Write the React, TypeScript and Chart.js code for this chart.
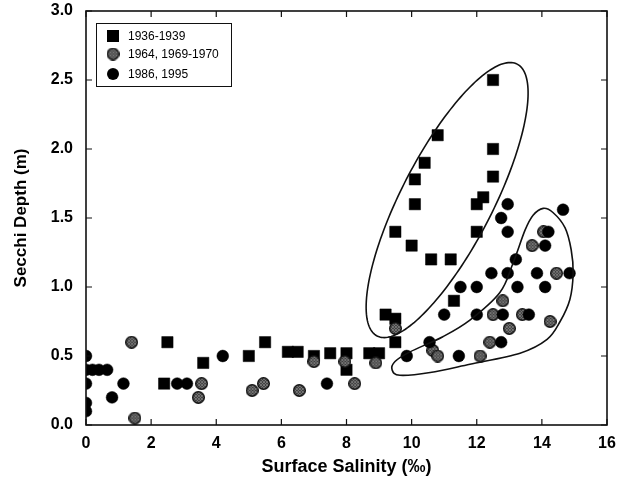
import React, { useEffect, useRef } from 'react';
import { Chart, registerables } from 'chart.js';

Chart.register(...registerables);

const FONT = '"Liberation Sans", Arial, Helvetica, sans-serif';

// Axis settings
const xMin = 0;
const xMax = 16;
const xStep = 2;
const yMin = 0;
const yMax = 3;
const yStep = 0.5;
const xTitle = 'Surface Salinity (‰)';
const yTitle = 'Secchi Depth (m)';

// Series 1: 1936-1939 (filled squares)
const s1Label = '1936-1939';
const s1X = [2.5, 2.4, 3.6, 5.0, 5.5, 6.2, 6.5, 7.0, 7.5, 8.0, 8.0, 8.7, 9.0, 9.5, 9.2, 9.5, 11.3, 9.5, 10.0, 10.6, 11.2, 10.1, 10.1, 10.4, 10.8, 12.0, 12.0, 12.2, 12.5, 12.5, 12.5];
const s1Y = [0.6, 0.3, 0.45, 0.5, 0.6, 0.53, 0.53, 0.5, 0.52, 0.52, 0.4, 0.52, 0.52, 0.6, 0.8, 0.77, 0.9, 1.4, 1.3, 1.2, 1.2, 1.6, 1.78, 1.9, 2.1, 1.4, 1.6, 1.65, 1.8, 2.0, 2.5];

// Series 2: 1964, 1969-1970 (hatched circles)
const s2Label = '1964, 1969-1970';
const s2X = [1.4, 1.5, 3.55, 3.45, 5.1, 5.45, 6.55, 7.0, 7.95, 8.25, 8.9, 9.5, 10.65, 10.8, 12.1, 12.4, 12.5, 12.8, 13.0, 13.4, 14.25, 14.45, 13.7, 14.05];
const s2Y = [0.6, 0.05, 0.3, 0.2, 0.25, 0.3, 0.25, 0.46, 0.46, 0.3, 0.45, 0.7, 0.54, 0.5, 0.5, 0.6, 0.8, 0.9, 0.7, 0.8, 0.75, 1.1, 1.3, 1.4];

// Series 3: 1986, 1995 (filled circles)
const s3Label = '1986, 1995';
const s3X = [0, 0, 0.2, 0.4, 0.65, 0, 0, 0, 1.15, 0.8, 2.8, 3.1, 4.2, 7.4, 9.85, 10.55, 11.0, 11.45, 11.5, 12.0, 12.0, 12.75, 12.95, 12.95, 14.65, 14.2, 14.1, 13.2, 12.45, 12.95, 13.85, 14.85, 13.25, 14.1, 12.8, 13.6, 12.75];
const s3Y = [0.5, 0.4, 0.4, 0.4, 0.4, 0.3, 0.16, 0.1, 0.3, 0.2, 0.3, 0.3, 0.5, 0.3, 0.5, 0.6, 0.8, 0.5, 1.0, 1.0, 0.8, 1.5, 1.6, 1.4, 1.56, 1.4, 1.3, 1.2, 1.1, 1.1, 1.1, 1.1, 1.0, 1.0, 0.8, 0.8, 0.6];

// Enclosing outlines (data units)
const bigLoopCenter = [11.09, 1.63];
const bigLoopMajor = [2.15, 0.985];
const bigLoopMinor = [1.25, -0.151];
const smallLoopX = [9.4, 9.64, 10.57, 11.79, 13.33, 14.16, 14.56, 14.86, 14.96, 14.9, 14.71, 14.34, 14.04, 13.73, 13.48, 13.11, 12.71, 11.79, 10.96, 9.95, 9.49];
const smallLoopY = [0.4, 0.36, 0.38, 0.44, 0.52, 0.62, 0.75, 0.91, 1.1, 1.27, 1.43, 1.54, 1.57, 1.52, 1.41, 1.17, 0.96, 0.76, 0.64, 0.53, 0.46];

function zip(xs: number[], ys: number[]) {
  return xs.map((x, i) => ({ x, y: ys[i] }));
}

function makeHatched(size: number): HTMLCanvasElement {
  const c = document.createElement('canvas');
  c.width = size;
  c.height = size;
  const g = c.getContext('2d')!;
  const cx = size / 2;
  const r = size / 2 - 0.7;
  g.save();
  g.beginPath();
  g.arc(cx, cx, r, 0, Math.PI * 2);
  g.closePath();
  g.fillStyle = '#3c3c3c';
  g.fill();
  g.clip();
  g.strokeStyle = '#8c8c8c';
  g.lineWidth = 0.7;
  for (let k = -size; k < size * 2; k += 3) {
    g.beginPath();
    g.moveTo(k, 0);
    g.lineTo(k + size, size);
    g.stroke();
    g.beginPath();
    g.moveTo(k, size);
    g.lineTo(k + size, 0);
    g.stroke();
  }
  g.restore();
  g.beginPath();
  g.arc(cx, cx, r, 0, Math.PI * 2);
  g.strokeStyle = '#101010';
  g.lineWidth = 1.4;
  g.stroke();
  return c;
}

export default function App() {
  const ref = useRef<HTMLCanvasElement>(null);

  useEffect(() => {
    const canvas = ref.current;
    if (!canvas) return;
    const hatched = makeHatched(13);

    const decor = {
      id: 'decor',
      afterDatasetsDraw(chart: any) {
        const { ctx, chartArea: a, scales } = chart;
        const xs = scales.x;
        const ys = scales.y;
        const px = (v: number) => xs.getPixelForValue(v);
        const py = (v: number) => ys.getPixelForValue(v);
        ctx.save();

        // big ellipse
        ctx.beginPath();
        for (let i = 0; i <= 200; i++) {
          const t = (i / 200) * Math.PI * 2;
          const dx = bigLoopCenter[0] + Math.cos(t) * bigLoopMajor[0] + Math.sin(t) * bigLoopMinor[0];
          const dy = bigLoopCenter[1] + Math.cos(t) * bigLoopMajor[1] + Math.sin(t) * bigLoopMinor[1];
          if (i === 0) ctx.moveTo(px(dx), py(dy));
          else ctx.lineTo(px(dx), py(dy));
        }
        ctx.closePath();
        ctx.strokeStyle = '#111';
        ctx.lineWidth = 1.6;
        ctx.stroke();

        // small loop: closed Catmull-Rom spline
        const pts = smallLoopX.map((x, i) => [px(x), py(smallLoopY[i])]);
        const n = pts.length;
        ctx.beginPath();
        ctx.moveTo(pts[0][0], pts[0][1]);
        for (let i = 0; i < n; i++) {
          const p0 = pts[(i - 1 + n) % n];
          const p1 = pts[i];
          const p2 = pts[(i + 1) % n];
          const p3 = pts[(i + 2) % n];
          const c1x = p1[0] + (p2[0] - p0[0]) / 6;
          const c1y = p1[1] + (p2[1] - p0[1]) / 6;
          const c2x = p2[0] - (p3[0] - p1[0]) / 6;
          const c2y = p2[1] - (p3[1] - p1[1]) / 6;
          ctx.bezierCurveTo(c1x, c1y, c2x, c2y, p2[0], p2[1]);
        }
        ctx.closePath();
        ctx.stroke();

        // frame
        ctx.strokeStyle = '#111';
        ctx.lineWidth = 1.6;
        ctx.strokeRect(a.left, a.top, a.right - a.left, a.bottom - a.top);

        // inward ticks
        ctx.lineWidth = 1.2;
        const tl = 6;
        xs.ticks.forEach((t: any) => {
          const x = px(t.value);
          ctx.beginPath();
          ctx.moveTo(x, a.bottom);
          ctx.lineTo(x, a.bottom - tl);
          ctx.moveTo(x, a.top);
          ctx.lineTo(x, a.top + tl);
          ctx.stroke();
        });
        ys.ticks.forEach((t: any) => {
          const y = py(t.value);
          ctx.beginPath();
          ctx.moveTo(a.left, y);
          ctx.lineTo(a.left + tl, y);
          ctx.moveTo(a.right, y);
          ctx.lineTo(a.right - tl, y);
          ctx.stroke();
        });

        // legend
        const lx = a.left + 10;
        const ly = a.top + 12;
        const lw = 135;
        const lh = 63;
        ctx.fillStyle = '#fff';
        ctx.fillRect(lx, ly, lw, lh);
        ctx.strokeStyle = '#111';
        ctx.lineWidth = 1;
        ctx.strokeRect(lx + 0.5, ly + 0.5, lw, lh);
        const rows = [13, 31, 51];
        const labels = chart.data.datasets.map((d: any) => d.label);
        ctx.font = '12px ' + FONT;
        ctx.textBaseline = 'middle';
        ctx.textAlign = 'left';
        labels.forEach((lab: string, i: number) => {
          const cy = ly + rows[i];
          const cx = lx + 17;
          ctx.fillStyle = '#000';
          if (i === 0) {
            ctx.fillRect(cx - 6, cy - 6, 12, 12);
          } else if (i === 1) {
            ctx.drawImage(hatched, cx - 6.5, cy - 6.5);
          } else {
            ctx.beginPath();
            ctx.arc(cx, cy, 6, 0, Math.PI * 2);
            ctx.fill();
          }
          ctx.fillStyle = '#000';
          ctx.fillText(lab, lx + 32, cy + 0.5);
        });
        ctx.restore();
      },
    };

    const chart = new Chart(canvas, {
      type: 'scatter',
      data: {
        datasets: [
          {
            label: s1Label,
            data: zip(s1X, s1Y),
            pointStyle: 'rect',
            pointRadius: 8,
            backgroundColor: '#000',
            borderColor: '#000',
            borderWidth: 0.5,
            order: 3,
          },
          {
            label: s2Label,
            data: zip(s2X, s2Y),
            pointStyle: hatched,
            pointRadius: 6.5,
            backgroundColor: '#404040',
            borderColor: '#111',
            order: 2,
          },
          {
            label: s3Label,
            data: zip(s3X, s3Y),
            pointStyle: 'circle',
            pointRadius: 5.9,
            backgroundColor: '#000',
            borderColor: '#000',
            borderWidth: 0.5,
            order: 1,
          },
        ],
      },
      options: {
        animation: false,
        responsive: false,
        maintainAspectRatio: false,
        events: [],
        layout: { padding: { left: 0, right: 11, top: 11, bottom: 0 } },
        plugins: {
          legend: { display: false },
          tooltip: { enabled: false },
        },
        scales: {
          x: {
            type: 'linear',
            min: xMin,
            max: xMax,
            ticks: {
              stepSize: xStep,
              color: '#000',
              padding: 9,
              font: { family: FONT, size: 16, weight: 'bold' },
              callback: (v: any) => String(v),
            },
            grid: { display: false, drawTicks: false },
            border: { display: false },
            title: {
              display: true,
              text: xTitle,
              color: '#000',
              font: { family: FONT, size: 18, weight: 'bold' },
              padding: { top: 0, bottom: 5 },
            },
            afterFit: (s: any) => {
              s.height = 58;
              s.paddingLeft = 0;
              s.paddingRight = 0;
            },
          },
          y: {
            type: 'linear',
            min: yMin,
            max: yMax,
            ticks: {
              stepSize: yStep,
              color: '#000',
              padding: 13,
              font: { family: FONT, size: 16, weight: 'bold' },
              callback: (v: any) => Number(v).toFixed(1),
            },
            grid: { display: false, drawTicks: false },
            border: { display: false },
            title: {
              display: true,
              text: yTitle,
              color: '#000',
              font: { family: FONT, size: 17, weight: 'bold' },
              padding: { top: 11, bottom: 0 },
            },
            afterFit: (s: any) => {
              s.width = 86;
              s.paddingTop = 0;
              s.paddingBottom = 0;
            },
          },
        },
      },
      plugins: [decor],
    } as any);

    return () => chart.destroy();
  }, []);

  return (
    <div style={{ position: 'fixed', left: 0, top: 0, width: 618, height: 483, background: '#fff' }}>
      <canvas ref={ref} width={618} height={483} style={{ display: 'block', width: 618, height: 483 }} />
    </div>
  );
}
